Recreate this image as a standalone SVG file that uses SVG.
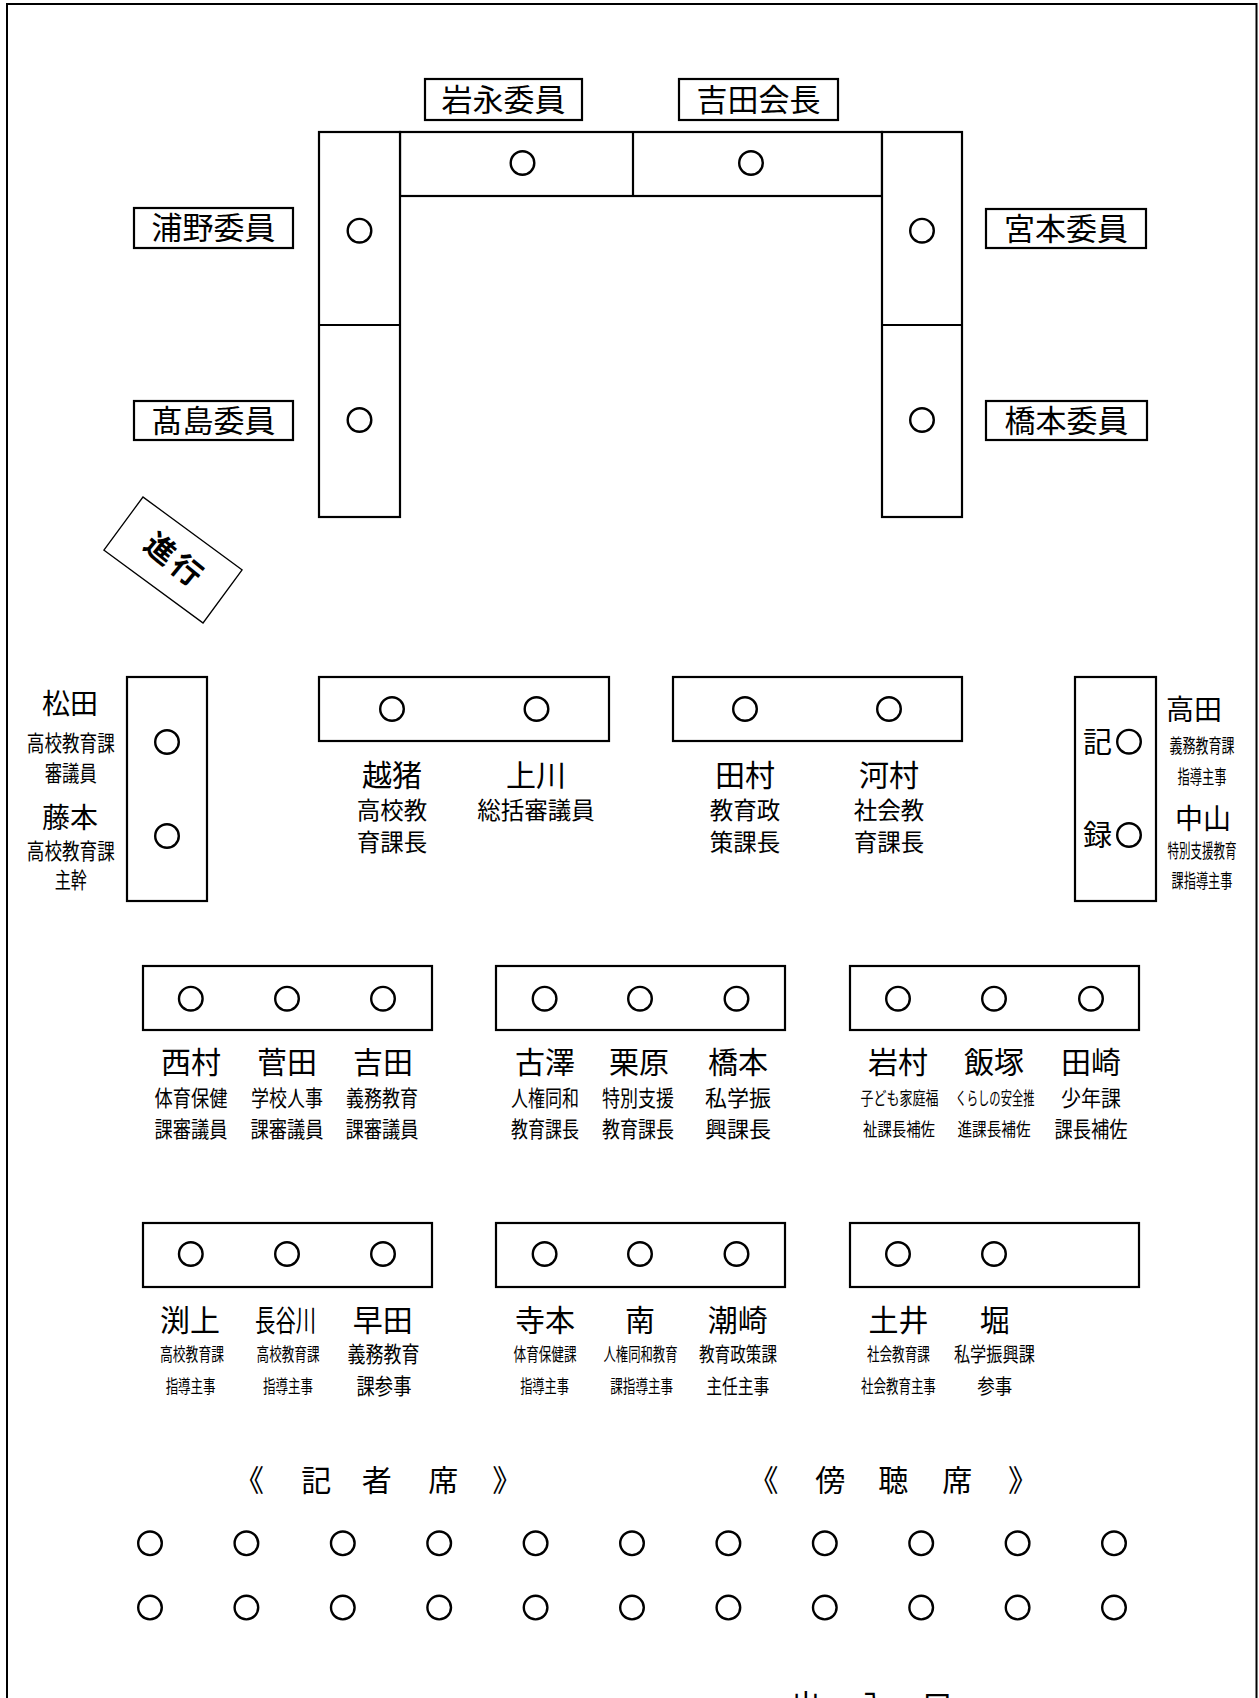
<svg xmlns="http://www.w3.org/2000/svg" width="1259" height="1698" viewBox="0 0 1259 1698">
<style>
text{font-family:"Noto Sans CJK JP","Noto Sans CJK SC",sans-serif;fill:#000;text-anchor:middle}
.tb{fill:#fff;stroke:#000;stroke-width:2.2}
.ln{stroke:#000;stroke-width:2.2;fill:none}
.lb{fill:#fff;stroke:#000;stroke-width:2.2}
.s{fill:none;stroke:#000;stroke-width:2.4}
.lt{font-size:31px}
.n{font-size:30px}
.nm{font-size:28px}
.s23{font-size:23.5px}
.s22{font-size:22px}
.s20{font-size:20px}
.s19{font-size:19px}
.s18{font-size:18px}
.ttl{font-size:30px}
</style>
<defs>
<circle id="seat" r="11.8" class="s"/>
</defs>
<rect x="7" y="4" width="1249.5" height="1720" fill="none" stroke="#000" stroke-width="2"/>

<g id="table-top">
<rect class="tb" x="400" y="132" width="482" height="64"/>
<line class="ln" x1="633" y1="132" x2="633" y2="196"/>
<use href="#seat" x="522.5" y="163"/>
<use href="#seat" x="751" y="163"/>
</g>
<g id="table-left">
<rect class="tb" x="319" y="132" width="81" height="385"/>
<line class="ln" x1="319" y1="325" x2="400" y2="325"/>
<use href="#seat" x="359.5" y="230.7"/>
<use href="#seat" x="359.5" y="420"/>
</g>
<g id="table-right">
<rect class="tb" x="882" y="132" width="80" height="385"/>
<line class="ln" x1="882" y1="325" x2="962" y2="325"/>
<use href="#seat" x="922" y="230.7"/>
<use href="#seat" x="922" y="420"/>
</g>

<g id="label-iwanaga"><rect class="lb" x="425" y="79" width="157" height="41"/><text class="lt" x="503.5" y="111">岩永委員</text></g>
<g id="label-yoshida-chair"><rect class="lb" x="679" y="79" width="159" height="41"/><text class="lt" x="758.5" y="111">吉田会長</text></g>
<g id="label-urano"><rect class="lb" x="134" y="208" width="159" height="40"/><text class="lt" x="213.5" y="239">浦野委員</text></g>
<g id="label-takashima"><rect class="lb" x="134" y="401" width="159" height="39"/><text class="lt" x="213.5" y="431.5">髙島委員</text></g>
<g id="label-miyamoto"><rect class="lb" x="986" y="209" width="160" height="39"/><text class="lt" x="1066" y="239.5">宮本委員</text></g>
<g id="label-hashimoto-member"><rect class="lb" x="986" y="401" width="161" height="39"/><text class="lt" x="1066.5" y="431.5">橋本委員</text></g>

<g id="moderator" transform="translate(173,560) rotate(36.3)">
<rect x="-61.5" y="-33" width="123" height="66" fill="#fff" stroke="#000" stroke-width="1.3"/>
<text x="2" y="10" font-size="30" font-weight="bold" letter-spacing="4" transform="rotate(3)">進行</text>
</g>

<g id="table-side-left">
<rect class="tb" x="127" y="677" width="80" height="224"/>
<use href="#seat" x="167" y="742"/>
<use href="#seat" x="167" y="836"/>
<text class="nm" x="70" y="714.4">松田</text>
<text class="s22" transform="translate(70.8,751) scale(0.8,1)">高校教育課</text>
<text class="s22" transform="translate(70.8,781) scale(0.79,1)">審議員</text>
<text class="nm" x="70" y="828.4">藤本</text>
<text class="s22" transform="translate(70.8,859) scale(0.8,1)">高校教育課</text>
<text class="s22" transform="translate(70.8,888) scale(0.73,1)">主幹</text>
</g>
<g id="table-side-right">
<rect class="tb" x="1075" y="677" width="81" height="224"/>
<text x="1097.5" y="752.5" font-size="29">記</text>
<use href="#seat" x="1129" y="741.7"/>
<text x="1097.5" y="845.8" font-size="29">録</text>
<use href="#seat" x="1129" y="835"/>
<text class="nm" x="1194" y="720.4">高田</text>
<text class="s19" transform="translate(1202,752.5) scale(0.684,1)">義務教育課</text>
<text class="s19" transform="translate(1202,784) scale(0.645,1)">指導主事</text>
<text class="nm" x="1203" y="829.4">中山</text>
<text class="s19" transform="translate(1202,857.5) scale(0.605,1)">特別支援教育</text>
<text class="s19" transform="translate(1202,888) scale(0.642,1)">課指導主事</text>
</g>
<g id="table-2a">
<rect class="tb" x="319" y="677" width="290" height="64"/>
<use href="#seat" x="392" y="709"/>
<use href="#seat" x="536.5" y="709"/>
<text class="n" x="392" y="785.6">越猪</text>
<text class="s23" x="392" y="818.7">高校教</text>
<text class="s23" x="392" y="850.7">育課長</text>
<text class="n" x="536" y="785.6">上川</text>
<text class="s23" x="536" y="818.7">総括審議員</text>
</g>
<g id="table-2b">
<rect class="tb" x="673" y="677" width="289" height="64"/>
<use href="#seat" x="745" y="709"/>
<use href="#seat" x="889" y="709"/>
<text class="n" x="745" y="785.6">田村</text>
<text class="s23" x="745" y="818.7">教育政</text>
<text class="s23" x="745" y="850.7">策課長</text>
<text class="n" x="889" y="785.6">河村</text>
<text class="s23" x="889" y="818.7">社会教</text>
<text class="s23" x="889" y="850.7">育課長</text>
</g>

<g id="table-3a">
<rect class="tb" x="143" y="966" width="289" height="64"/>
<use href="#seat" x="190.8" y="998.7"/>
<use href="#seat" x="287" y="998.7"/>
<use href="#seat" x="383" y="998.7"/>
<text class="n" x="191" y="1073">西村</text>
<text class="s22" transform="translate(191,1106) scale(0.83,1)">体育保健</text>
<text class="s22" transform="translate(191,1137) scale(0.83,1)">課審議員</text>
<text class="n" x="287" y="1073">菅田</text>
<text class="s22" transform="translate(287,1106) scale(0.818,1)">学校人事</text>
<text class="s22" transform="translate(287,1137) scale(0.83,1)">課審議員</text>
<text class="n" x="383" y="1073">吉田</text>
<text class="s22" transform="translate(382,1106) scale(0.818,1)">義務教育</text>
<text class="s22" transform="translate(382,1137) scale(0.83,1)">課審議員</text>
</g>
<g id="table-3b">
<rect class="tb" x="496" y="966" width="289" height="64"/>
<use href="#seat" x="544.6" y="998.7"/>
<use href="#seat" x="640" y="998.7"/>
<use href="#seat" x="736.5" y="998.7"/>
<text class="n" x="545" y="1073">古澤</text>
<text class="s22" transform="translate(545,1106) scale(0.773,1)">人権同和</text>
<text class="s22" transform="translate(545,1137) scale(0.773,1)">教育課長</text>
<text class="n" x="639" y="1073">栗原</text>
<text class="s22" transform="translate(638,1106) scale(0.818,1)">特別支援</text>
<text class="s22" transform="translate(638,1137) scale(0.818,1)">教育課長</text>
<text class="n" x="738" y="1073">橋本</text>
<text class="s22" x="738" y="1106">私学振</text>
<text class="s22" x="738" y="1137">興課長</text>
</g>
<g id="table-3c">
<rect class="tb" x="850" y="966" width="289" height="64"/>
<use href="#seat" x="898" y="998.7"/>
<use href="#seat" x="994" y="998.7"/>
<use href="#seat" x="1091" y="998.7"/>
<text class="n" x="898" y="1073">岩村</text>
<text class="s18" transform="translate(899.5,1105) scale(0.722,1)">子ども家庭福</text>
<text class="s18" transform="translate(899,1136) scale(0.8,1)">祉課長補佐</text>
<text class="n" x="994" y="1073">飯塚</text>
<text class="s18" transform="translate(995,1105) scale(0.627,1)">くらしの安全推</text>
<text class="s18" transform="translate(994,1136) scale(0.811,1)">進課長補佐</text>
<text class="n" x="1091" y="1073">田崎</text>
<text class="s22" transform="translate(1091,1106) scale(0.909,1)">少年課</text>
<text class="s22" transform="translate(1091,1137) scale(0.83,1)">課長補佐</text>
</g>

<g id="table-4a">
<rect class="tb" x="143" y="1223" width="289" height="64"/>
<use href="#seat" x="190.8" y="1254"/>
<use href="#seat" x="287" y="1254"/>
<use href="#seat" x="383" y="1254"/>
<text class="n" x="190" y="1331">渕上</text>
<text class="s18" transform="translate(192,1361) scale(0.711,1)">高校教育課</text>
<text class="s18" transform="translate(190.6,1393) scale(0.694,1)">指導主事</text>
<text class="n" transform="translate(285.6,1331) scale(0.678,1)">長谷川</text>
<text class="s18" transform="translate(288,1361) scale(0.7,1)">高校教育課</text>
<text class="s18" transform="translate(288,1393) scale(0.694,1)">指導主事</text>
<text class="n" x="382.7" y="1331">早田</text>
<text class="s22" transform="translate(383.5,1362) scale(0.818,1)">義務教育</text>
<text class="s22" transform="translate(384,1394) scale(0.833,1)">課参事</text>
</g>
<g id="table-4b">
<rect class="tb" x="496" y="1223" width="289" height="64"/>
<use href="#seat" x="544.6" y="1254"/>
<use href="#seat" x="640" y="1254"/>
<use href="#seat" x="736.5" y="1254"/>
<text class="n" x="545" y="1331">寺本</text>
<text class="s18" transform="translate(545,1361) scale(0.7,1)">体育保健課</text>
<text class="s18" transform="translate(544.6,1393) scale(0.68,1)">指導主事</text>
<text class="n" x="640" y="1331">南</text>
<text class="s18" transform="translate(640.5,1361) scale(0.685,1)">人権同和教育</text>
<text class="s18" transform="translate(641.7,1393) scale(0.7,1)">課指導主事</text>
<text class="n" x="737.8" y="1331">潮崎</text>
<text class="s20" transform="translate(738,1362) scale(0.78,1)">教育政策課</text>
<text class="s20" transform="translate(737.8,1393.5) scale(0.788,1)">主任主事</text>
</g>
<g id="table-4c">
<rect class="tb" x="850" y="1223" width="289" height="64"/>
<use href="#seat" x="898" y="1254"/>
<use href="#seat" x="994" y="1254"/>
<text class="n" x="898.4" y="1331">土井</text>
<text class="s18" transform="translate(898.4,1361) scale(0.7,1)">社会教育課</text>
<text class="s18" transform="translate(898.4,1393) scale(0.694,1)">社会教育主事</text>
<text class="n" x="994.8" y="1331">堀</text>
<text class="s20" transform="translate(994.4,1362) scale(0.81,1)">私学振興課</text>
<text class="s20" transform="translate(994.8,1393.5) scale(0.875,1)">参事</text>
</g>

<g id="press-title">
<text class="ttl" y="1491"><tspan x="249">《</tspan><tspan x="313"> 記</tspan><tspan x="373.5"> 者</tspan><tspan x="440"> 席</tspan><tspan x="504"> 》</tspan></text>
</g>
<g id="public-title">
<text class="ttl" y="1491"><tspan x="763.5">《</tspan><tspan x="827"> 傍</tspan><tspan x="890"> 聴</tspan><tspan x="954"> 席</tspan><tspan x="1019.6"> 》</tspan></text>
</g>
<g id="audience-seats">
<use href="#seat" x="150" y="1543.3"/><use href="#seat" x="246.4" y="1543.3"/><use href="#seat" x="342.8" y="1543.3"/><use href="#seat" x="439.2" y="1543.3"/><use href="#seat" x="535.6" y="1543.3"/><use href="#seat" x="632" y="1543.3"/><use href="#seat" x="728.4" y="1543.3"/><use href="#seat" x="824.8" y="1543.3"/><use href="#seat" x="921.2" y="1543.3"/><use href="#seat" x="1017.6" y="1543.3"/><use href="#seat" x="1114" y="1543.3"/>
<use href="#seat" x="150" y="1607.6"/><use href="#seat" x="246.4" y="1607.6"/><use href="#seat" x="342.8" y="1607.6"/><use href="#seat" x="439.2" y="1607.6"/><use href="#seat" x="535.6" y="1607.6"/><use href="#seat" x="632" y="1607.6"/><use href="#seat" x="728.4" y="1607.6"/><use href="#seat" x="824.8" y="1607.6"/><use href="#seat" x="921.2" y="1607.6"/><use href="#seat" x="1017.6" y="1607.6"/><use href="#seat" x="1114" y="1607.6"/>
</g>
<g id="entrance">
<text class="ttl" y="1716"><tspan x="806">出</tspan><tspan x="870"> 入</tspan><tspan x="934"> 口</tspan></text>
</g>
</svg>
